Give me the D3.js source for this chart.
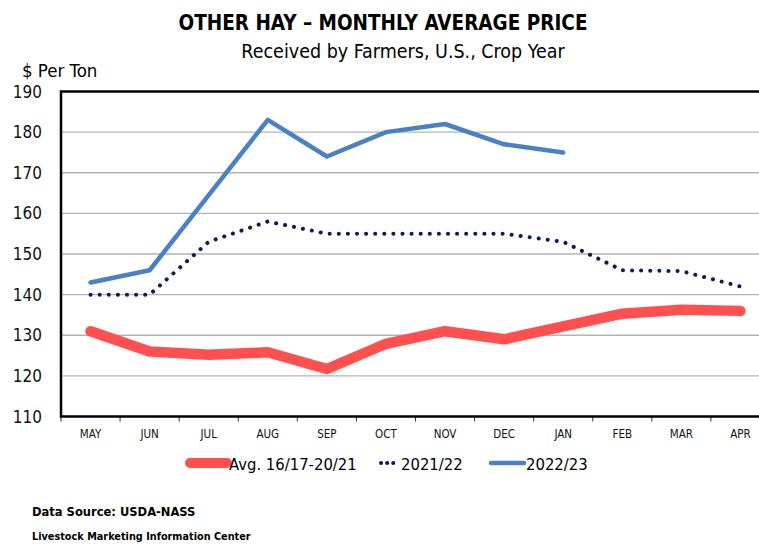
<!DOCTYPE html>
<html>
<head>
<meta charset="utf-8">
<style>
  body { margin: 0; background: #fff; }
  svg { display: block; }
  text { font-family: "DejaVu Sans", sans-serif; font-stretch: semi-condensed; }
</style>
</head>
<body>
<svg width="759" height="544"></svg>
<script src="https://cdnjs.cloudflare.com/ajax/libs/d3/7.8.5/d3.min.js"></script>
<script>

// months of the crop year
var months = ["MAY", "JUN", "JUL", "AUG", "SEP", "OCT", "NOV", "DEC", "JAN", "FEB", "MAR", "APR"];

// $ per ton
var avg1621 = [131, 126, 125.2, 125.8, 121.7, 127.9, 131, 129, 132.2, 135.3, 136.3, 136];
var y2122 = [140, 140, 153, 158, 155, 155, 155, 155, 153, 146, 145.8, 142];
var y2223 = [143, 146, 164.5, 183, 174, 180, 182, 177, 175];

var yTicks = [110, 120, 130, 140, 150, 160, 170, 180, 190];

var svg = d3.select("svg");

// plot box (right side runs off the picture like the original)
var pLeft = 61, pRight = 770, pTop = 91.5, pBottom = 416.5;

var x = d3.scaleBand().domain(months).range([pLeft, pRight]);
var y = d3.scaleLinear().domain([110, 190]).range([pBottom, pTop]);

// gridlines
svg.append("g")
  .selectAll("line")
  .data(yTicks.slice(1, -1))
  .enter().append("line")
  .attr("x1", pLeft).attr("x2", 759)
  .attr("y1", function(d) { return y(d); })
  .attr("y2", function(d) { return y(d); })
  .style("stroke", "#b4b4b4")
  .style("stroke-width", 1.3);

// y tick labels
svg.append("g")
  .selectAll("text")
  .data(yTicks)
  .enter().append("text")
  .attr("x", 42)
  .attr("y", function(d) { return y(d) + 6; })
  .attr("text-anchor", "end")
  .style("font-size", "17px")
  .style("fill", "#111")
  .text(function(d) { return d; });

// x axis
var xAxis = svg.append("g")
  .attr("transform", "translate(0," + pBottom + ")")
  .call(d3.axisBottom(x).tickSize(0).tickPadding(13));
xAxis.select(".domain").remove();
xAxis.attr("font-family", null);
xAxis.selectAll("text")
  .style("font-size", "11.5px")
  .style("fill", "#111");

// category tick marks between bands
svg.append("g")
  .selectAll("line")
  .data(months)
  .enter().append("line")
  .attr("x1", function(d) { return x(d); })
  .attr("x2", function(d) { return x(d); })
  .attr("y1", pBottom).attr("y2", pBottom + 5)
  .style("stroke", "#333")
  .style("stroke-width", 1);

// box border: left, top, bottom
svg.append("path")
  .attr("d", "M759," + pTop + "H" + pLeft + "V" + pBottom + "H759")
  .style("fill", "none")
  .style("stroke", "#000")
  .style("stroke-width", 2.5);

var line = d3.line()
  .x(function(d, i) { return x(months[i]) + x.bandwidth() / 2; })
  .y(function(d) { return y(d); });

svg.append("path")
  .datum(avg1621)
  .attr("d", line)
  .style("fill", "none")
  .style("stroke", "#ff4f4f")
  .style("stroke-width", 10.5)
  .style("stroke-linecap", "round")
  .style("stroke-linejoin", "round");

svg.append("path")
  .datum(y2122)
  .attr("d", line)
  .style("fill", "none")
  .style("stroke", "#0b1d57")
  .style("stroke-width", 4)
  .style("stroke-dasharray", "0.1 9")
  .style("stroke-linecap", "round");

svg.append("path")
  .datum(y2223)
  .attr("d", line)
  .style("fill", "none")
  .style("stroke", "#4a80c4")
  .style("stroke-width", 4.5)
  .style("stroke-linecap", "round")
  .style("stroke-linejoin", "round");

// titles
svg.append("text")
  .attr("x", 383).attr("y", 30)
  .attr("text-anchor", "middle")
  .style("font-weight", "bold")
  .style("font-size", "20.5px")
  .text("OTHER HAY \u2013 MONTHLY AVERAGE PRICE");

svg.append("text")
  .attr("x", 403).attr("y", 58)
  .attr("text-anchor", "middle")
  .style("font-size", "19.5px")
  .text("Received by Farmers, U.S., Crop Year");

svg.append("text")
  .attr("x", 22).attr("y", 77)
  .style("font-size", "18.5px")
  .text("$ Per Ton");

// legend
var legend = [
  { label: "Avg. 16/17-20/21", x0: 190, x1: 227, color: "#ff4f4f", w: 10, dash: null },
  { label: "2021/22", x0: 381, x1: 399, color: "#0b1d57", w: 4, dash: "0.1 6" },
  { label: "2022/23", x0: 491, x1: 524, color: "#4a80c4", w: 4.5, dash: null }
];
var lg = svg.append("g");
lg.selectAll("line")
  .data(legend)
  .enter().append("line")
  .attr("x1", function(d) { return d.x0; })
  .attr("x2", function(d) { return d.x1; })
  .attr("y1", 463).attr("y2", 463)
  .style("stroke", function(d) { return d.color; })
  .style("stroke-width", function(d) { return d.w; })
  .style("stroke-dasharray", function(d) { return d.dash; })
  .style("stroke-linecap", "round");
lg.selectAll("text")
  .data(legend)
  .enter().append("text")
  .attr("x", function(d) { return d.x1 + 2; })
  .attr("y", 470)
  .style("font-size", "16.5px")
  .text(function(d) { return d.label; });

// footer
svg.append("text")
  .attr("x", 32).attr("y", 516)
  .style("font-weight", "bold")
  .style("font-size", "12.8px")
  .text("Data Source:  USDA-NASS");

svg.append("text")
  .attr("x", 32).attr("y", 540)
  .style("font-weight", "bold")
  .style("font-size", "10.8px")
  .text("Livestock Marketing Information Center");

</script>
</body>
</html>
